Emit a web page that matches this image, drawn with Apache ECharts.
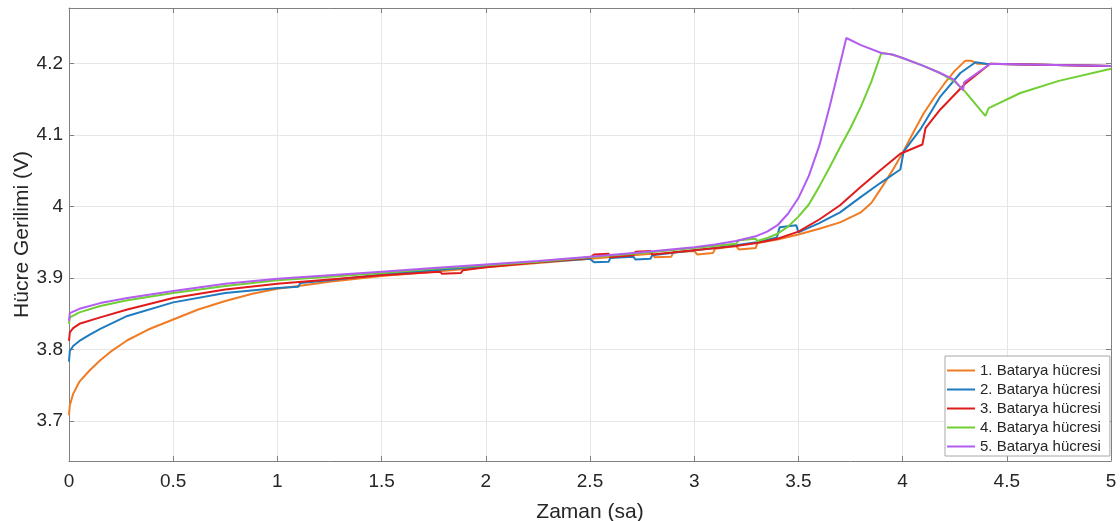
<!DOCTYPE html>
<html>
<head>
<meta charset="utf-8">
<script src="https://cdn.jsdelivr.net/npm/echarts@6/dist/echarts.min.js"></script>
<style>
  html, body { margin: 0; padding: 0; background: #fff; }
  #chart { width: 1120px; height: 521px; }
</style>
</head>
<body>
<div id="chart"></div>
<script>
// [time (h), voltage (V)]
const cell1 = [
  [0, 3.708], [0.004, 3.722], [0.02, 3.738], [0.05, 3.755], [0.1, 3.771], [0.15, 3.785],
  [0.2, 3.797], [0.28, 3.813], [0.38, 3.828], [0.5, 3.842], [0.62, 3.856], [0.75, 3.868],
  [0.88, 3.878], [1.0, 3.885], [1.1, 3.889], [1.25, 3.895], [1.5, 3.903], [1.75, 3.909],
  [2.0, 3.915], [2.25, 3.921], [2.5, 3.927], [2.75, 3.933],
  [2.8, 3.934], [2.81, 3.929], [2.89, 3.930], [2.9, 3.936],
  [3.0, 3.938], [3.015, 3.933], [3.09, 3.935], [3.1, 3.941],
  [3.2, 3.945], [3.215, 3.940], [3.295, 3.942], [3.303, 3.949],
  [3.4, 3.954], [3.5, 3.961], [3.6, 3.969], [3.7, 3.978], [3.8, 3.992], [3.85, 4.005],
  [3.9, 4.027], [3.95, 4.05], [4.0, 4.075], [4.05, 4.103], [4.1, 4.13], [4.15, 4.152],
  [4.2, 4.172], [4.25, 4.19], [4.3, 4.204], [4.33, 4.204], [4.36, 4.2], [4.6, 4.199], [5, 4.197]
];
const cell2 = [
  [0, 3.783], [0.004, 3.798], [0.02, 3.805], [0.05, 3.812], [0.1, 3.821], [0.15, 3.829],
  [0.28, 3.847], [0.5, 3.866], [0.75, 3.879], [1.0, 3.886], [1.1, 3.888], [1.11, 3.893],
  [1.25, 3.897], [1.5, 3.905], [1.75, 3.911], [2.0, 3.917], [2.25, 3.922], [2.5, 3.927],
  [2.509, 3.927], [2.519, 3.922], [2.59, 3.923], [2.597, 3.928],
  [2.708, 3.930], [2.718, 3.926], [2.79, 3.927], [2.799, 3.932],
  [3.0, 3.939], [3.1, 3.942], [3.2, 3.946], [3.3, 3.950], [3.397, 3.957], [3.41, 3.971],
  [3.49, 3.974], [3.5, 3.964], [3.6, 3.977], [3.7, 3.992], [3.797, 4.013], [3.893, 4.033],
  [3.989, 4.052], [4.005, 4.077], [4.085, 4.108], [4.181, 4.154], [4.277, 4.187],
  [4.35, 4.202], [4.4, 4.2], [4.6, 4.199], [5, 4.197]
];
const cell3 = [
  [0, 3.812], [0.004, 3.824], [0.02, 3.830], [0.05, 3.836], [0.15, 3.845], [0.28, 3.856],
  [0.5, 3.872], [0.75, 3.884], [1.0, 3.892], [1.25, 3.898], [1.5, 3.904], [1.78, 3.909],
  [1.79, 3.906], [1.88, 3.907], [1.89, 3.911], [2.0, 3.915], [2.25, 3.922], [2.5, 3.928],
  [2.519, 3.933], [2.59, 3.934], [2.597, 3.929],
  [2.708, 3.932], [2.718, 3.937], [2.79, 3.938], [2.799, 3.933],
  [3.0, 3.939], [3.2, 3.945], [3.3, 3.949], [3.4, 3.955], [3.5, 3.965], [3.6, 3.982],
  [3.7, 4.002], [3.797, 4.027], [3.893, 4.051], [3.989, 4.074], [4.095, 4.087], [4.11, 4.11],
  [4.181, 4.136], [4.3, 4.172], [4.42, 4.2], [4.6, 4.199], [5, 4.197]
];
const cell4 = [
  [0, 3.836], [0.004, 3.845], [0.05, 3.852], [0.15, 3.861], [0.28, 3.869], [0.5, 3.879],
  [0.75, 3.889], [1.0, 3.897], [1.25, 3.902], [1.5, 3.907], [1.75, 3.913], [2.0, 3.918],
  [2.25, 3.923], [2.5, 3.929], [2.75, 3.935], [3.0, 3.942], [3.2, 3.948], [3.215, 3.953],
  [3.295, 3.955], [3.303, 3.952], [3.35, 3.956], [3.4, 3.962], [3.45, 3.972], [3.5, 3.986],
  [3.55, 4.003], [3.6, 4.028], [3.65, 4.055], [3.7, 4.083], [3.75, 4.11], [3.8, 4.14],
  [3.85, 4.175], [3.898, 4.215], [3.95, 4.213], [4.0, 4.208], [4.1, 4.197], [4.18, 4.187],
  [4.25, 4.175], [4.3, 4.161], [4.397, 4.127], [4.413, 4.138], [4.565, 4.159], [4.75, 4.176],
  [5, 4.193]
];
const cell5 = [
  [0, 3.84], [0.004, 3.851], [0.05, 3.857], [0.15, 3.865], [0.28, 3.872], [0.5, 3.882],
  [0.75, 3.892], [1.0, 3.899], [1.25, 3.904], [1.5, 3.909], [1.75, 3.914], [2.0, 3.919],
  [2.25, 3.924], [2.5, 3.930], [2.75, 3.936], [3.0, 3.943], [3.1, 3.947], [3.2, 3.952],
  [3.3, 3.959], [3.35, 3.965], [3.4, 3.974], [3.45, 3.99], [3.5, 4.012], [3.55, 4.043],
  [3.6, 4.085], [3.65, 4.14], [3.7, 4.2], [3.73, 4.236], [3.8, 4.226], [3.898, 4.215],
  [3.95, 4.213], [4.0, 4.208], [4.1, 4.197], [4.18, 4.187], [4.244, 4.178], [4.29, 4.163],
  [4.295, 4.174], [4.421, 4.2], [4.6, 4.199], [5, 4.197]
];

const cellNames = ["1. Batarya hücresi", "2. Batarya hücresi", "3. Batarya hücresi", "4. Batarya hücresi", "5. Batarya hücresi"];
const cellColors = ["#ef7c24", "#1f7bbf", "#e01b1b", "#6fcf33", "#b35cf0"];
const yTicks = [3.7, 3.8, 3.9, 4.0, 4.1, 4.2];
const yMin = 3.644;
const yMax = 4.278;

const font = "Liberation Sans, Arial, sans-serif";
const axisGray = "#808080";
const textDark = "#262626";

const chart = echarts.init(document.getElementById("chart"));

const allCells = [cell1, cell2, cell3, cell4, cell5];
const series = allCells.map((d, i) => ({
  name: cellNames[i],
  type: "line",
  data: d,
  symbol: "none",
  smooth: false,
  lineStyle: { width: 2, color: cellColors[i] },
  itemStyle: { color: cellColors[i] },
  z: 2 + i
}));

chart.setOption({
  animation: false,
  textStyle: { fontFamily: font },
  grid: { left: 69, right: 9, top: 8, bottom: 60, show: false, containLabel: false, outerBoundsMode: "none" },
  legend: {
    orient: "vertical",
    left: 945,
    top: 356,
    data: cellNames,
    icon: "rect",
    itemWidth: 28,
    itemHeight: 2,
    itemGap: 4,
    padding: [7, 9, 2, 2],
    backgroundColor: "#ffffff",
    borderColor: "#a8a8a8",
    borderWidth: 1,
    borderRadius: 0,
    textStyle: { fontFamily: font, fontSize: 15, color: textDark, lineHeight: 15 }
  },
  xAxis: [
    {
      type: "value",
      min: 0,
      max: 5,
      interval: 0.5,
      position: "bottom",
      name: "Zaman (sa)",
      nameLocation: "middle",
      nameGap: 41,
      nameMoveOverlap: false,
      nameTextStyle: { fontFamily: font, fontSize: 21, color: textDark },
      axisLine: { show: true, onZero: false, lineStyle: { color: axisGray, width: 1 } },
      axisTick: { show: true, inside: true, length: 5, lineStyle: { color: axisGray } },
      axisLabel: { fontFamily: font, fontSize: 19, color: textDark, margin: 11 },
      splitLine: { show: true, lineStyle: { color: "#e6e6e6", width: 1 } }
    },
    {
      type: "value",
      min: 0,
      max: 5,
      interval: 0.5,
      position: "top",
      axisLine: { show: true, onZero: false, lineStyle: { color: axisGray, width: 1 } },
      axisTick: { show: true, inside: true, length: 5, lineStyle: { color: axisGray } },
      axisLabel: { show: false },
      splitLine: { show: false }
    }
  ],
  yAxis: [
    {
      type: "value",
      min: yMin,
      max: yMax,
      position: "left",
      name: "Hücre Gerilimi (V)",
      nameLocation: "middle",
      nameGap: 36,
      nameMoveOverlap: false,
      nameTextStyle: { fontFamily: font, fontSize: 21, color: textDark },
      axisLine: { show: true, onZero: false, lineStyle: { color: axisGray, width: 1 } },
      axisTick: { show: true, inside: true, length: 5, customValues: yTicks, lineStyle: { color: axisGray } },
      axisLabel: {
        fontFamily: font, fontSize: 19, color: textDark, margin: 6,
        customValues: yTicks,
        formatter: v => String(Math.round(v * 10) / 10)
      },
      splitLine: { show: true, lineStyle: { color: "#e6e6e6", width: 1 } }
    },
    {
      type: "value",
      min: yMin,
      max: yMax,
      position: "right",
      axisLine: { show: true, onZero: false, lineStyle: { color: axisGray, width: 1 } },
      axisTick: { show: true, inside: true, length: 5, customValues: yTicks, lineStyle: { color: axisGray } },
      axisLabel: { show: false, customValues: yTicks },
      splitLine: { show: false }
    }
  ],
  series: series
});
</script>
</body>
</html>
